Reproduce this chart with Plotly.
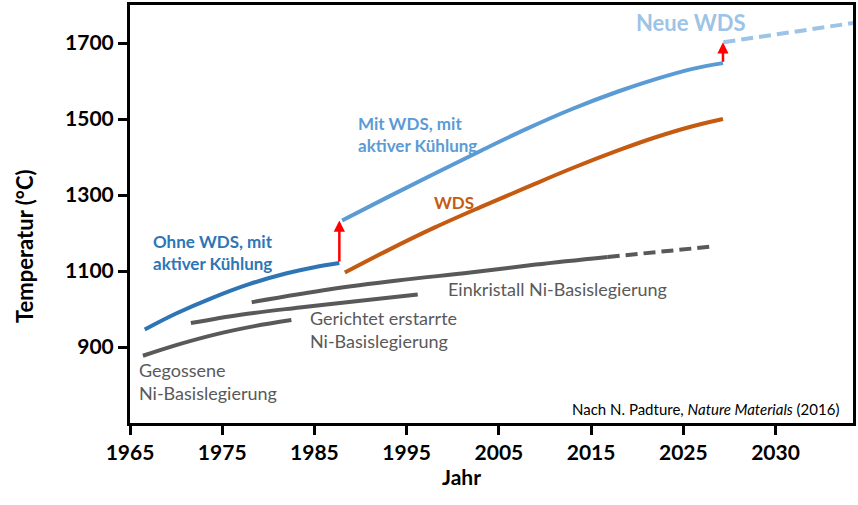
import plotly.graph_objects as go

# x positions are on the figure's evenly spaced year axis (tick labels as in the source)
tick_vals = [1965, 1975, 1985, 1995, 2005, 2015, 2025, 2035]
tick_text = ["1965", "1975", "1985", "1995", "2005", "2015", "2025", "2030"]
y_ticks = [900, 1100, 1300, 1500, 1700]

gegossene_x = [1966.4, 1970.0, 1974.4, 1978.5, 1982.5]
gegossene_y = [877, 905, 934, 955, 971]

gerichtet_x = [1971.6, 1977.0, 1983.4, 1990.0, 1996.2]
gerichtet_y = [963, 985, 1004, 1022, 1038]

einkristall_x = [1978.2, 1986.7, 1994.0, 2001.9, 2009.0, 2016.8]
einkristall_y = [1018, 1052, 1075, 1096, 1117, 1137]
einkristall_proj_x = [2016.8, 2028.4]
einkristall_proj_y = [1137, 1165]

ohne_wds_x = [1966.6, 1970.0, 1974.0, 1978.0, 1982.0, 1985.0, 1987.7]
ohne_wds_y = [946, 988, 1030, 1066, 1094, 1110, 1121]

mit_wds_x = [1988.0, 1993.0, 1998.0, 2003.0, 2008.0, 2013.0, 2018.0, 2022.0, 2026.0, 2029.3]
mit_wds_y = [1233, 1295, 1356, 1416, 1474, 1527, 1573, 1605, 1632, 1647]

wds_x = [1988.3, 1993.0, 1998.0, 2003.0, 2008.0, 2013.0, 2018.0, 2022.0, 2026.0, 2029.3]
wds_y = [1096, 1155, 1214, 1268, 1320, 1371, 1418, 1452, 1481, 1500]

neue_wds_x = [2029.35, 2043.5]
neue_wds_y = [1702, 1753]

DARKBLUE = "#2E75B6"
LIGHTBLUE = "#5B9BD5"
PALEBLUE = "#9DC3E6"
ORANGE = "#C55A11"
GRAY = "#595959"
FONT = "Lato"

fig = go.Figure()

def add_line(x, y, color, dash="solid"):
    fig.add_trace(go.Scatter(x=x, y=y, mode="lines", showlegend=False,
                             line=dict(color=color, width=4, dash=dash, shape="spline"),
                             hoverinfo="skip"))

add_line(gegossene_x, gegossene_y, GRAY)
add_line(gerichtet_x, gerichtet_y, GRAY)
add_line(einkristall_x, einkristall_y, GRAY)
add_line(einkristall_proj_x, einkristall_proj_y, GRAY, dash="12px,6px")
add_line(ohne_wds_x, ohne_wds_y, DARKBLUE)
add_line(wds_x, wds_y, ORANGE)
add_line(mit_wds_x, mit_wds_y, LIGHTBLUE)
add_line(neue_wds_x, neue_wds_y, PALEBLUE, dash="12px,6px")

ann = []

# red arrows (from end of one curve to start of the next)
for (tx, ty, hx, hy) in [(ohne_wds_x[-1], ohne_wds_y[-1], mit_wds_x[0], mit_wds_y[0]),
                         (mit_wds_x[-1], mit_wds_y[-1], neue_wds_x[0], neue_wds_y[0])]:
    ann.append(dict(x=tx, y=hy, ax=tx, ay=ty, xref="x", yref="y", axref="x", ayref="y",
                    text="", showarrow=True, arrowhead=2, arrowsize=0.9, arrowwidth=2.5,
                    arrowcolor="#FF0000", standoff=0, startstandoff=0))

def label(x, y, text, color, size, bold=True, anchor="left"):
    t = f"<b>{text}</b>" if bold else text
    ann.append(dict(x=x, y=y, xref="x", yref="y", text=t, showarrow=False,
                    xanchor=anchor, yanchor="middle", align=anchor,
                    font=dict(family=FONT, size=size, color=color)))

label(1967.3, 1148, "Ohne WDS, mit<br>aktiver Kühlung", DARKBLUE, 17)
label(1989.5, 1459, "Mit WDS, mit<br>aktiver Kühlung", LIGHTBLUE, 17)
label(1997.8, 1281, "WDS", ORANGE, 17)
label(2019.6, 1753, "Neue WDS", PALEBLUE, 22)
label(1999.3, 1053, "Einkristall Ni-Basislegierung", GRAY, 18, bold=False)
label(1984.3, 947, "Gerichtet erstarrte<br>Ni-Basislegierung", GRAY, 18, bold=False)
label(1965.8, 810, "Gegossene<br>Ni-Basislegierung", GRAY, 18, bold=False)
ann.append(dict(x=2042.1, y=737.6, xref="x", yref="y", showarrow=False,
                text="Nach N. Padture, <i>Nature Materials</i> (2016)",
                xanchor="right", yanchor="middle",
                font=dict(family=FONT, size=15, color="black")))

# axis titles
ann.append(dict(x=(461 - 130) / 723, y=(423 - 476) / 418, xref="paper", yref="paper",
                text="<b>Jahr</b>", showarrow=False, xanchor="center", yanchor="middle",
                font=dict(family=FONT, size=21, color="black")))
ann.append(dict(x=(25 - 130) / 723, y=(423 - 246) / 418, xref="paper", yref="paper",
                text="<b>Temperatur (°C)</b>", showarrow=False, textangle=-90,
                xanchor="center", yanchor="middle",
                font=dict(family=FONT, size=22, color="black")))

axis_common = dict(showline=True, linewidth=3, linecolor="black", mirror=True,
                   ticks="outside", ticklen=9, tickwidth=3, tickcolor="black",
                   showgrid=False, zeroline=False, automargin=False,
                   tickfont=dict(family=FONT, size=21, color="black"))

fig.update_layout(
    width=858, height=505,
    margin=dict(l=130, r=5, t=5, b=82),
    paper_bgcolor="white", plot_bgcolor="white",
    hovermode=False,
    xaxis=dict(range=[1965, 2043.4], tickvals=tick_vals,
               ticktext=[f"<b>{t}</b>" for t in tick_text], **axis_common),
    yaxis=dict(range=[700, 1800], tickvals=y_ticks,
               ticktext=[f"<b>{v}</b>" for v in y_ticks], **axis_common),
    annotations=ann,
)

fig.write_html("out.html", config={"displayModeBar": False},
               post_script="document.body.style.margin='0px';")
